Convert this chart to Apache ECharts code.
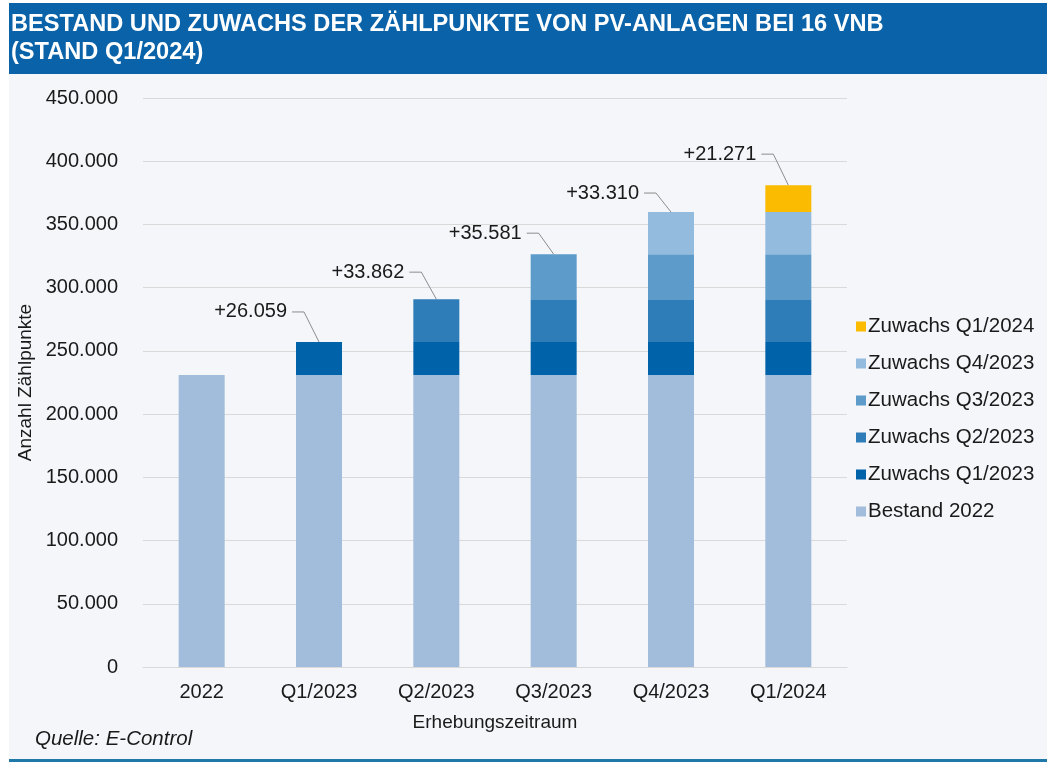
<!DOCTYPE html>
<html>
<head>
<meta charset="utf-8">
<title>Bestand und Zuwachs der Zählpunkte von PV-Anlagen</title>
<script src="https://cdn.jsdelivr.net/npm/echarts@6/dist/echarts.min.js"></script>
<style>
  html, body { margin: 0; padding: 0; background: #fff; }
  #chart { width: 1047px; height: 763px; }
</style>
</head>
<body>
<div id="chart"></div>
<script>
// Erhebungszeiträume
const categories = ['2022', 'Q1/2023', 'Q2/2023', 'Q3/2023', 'Q4/2023', 'Q1/2024']
// Bestand Ende 2022
const bestand2022 = 231000
// Zuwachs je Quartal, gleiche Reihenfolge wie die Stapel
const zuwachsNames = ['Zuwachs Q1/2023', 'Zuwachs Q2/2023', 'Zuwachs Q3/2023', 'Zuwachs Q4/2023', 'Zuwachs Q1/2024']
const zuwachsValues = [26059, 33862, 35581, 33310, 21271]
const yTicks = [0, 50000, 100000, 150000, 200000, 250000, 300000, 350000, 400000, 450000]

// Farben
const colors = ['#a2bcdb', '#0062a9', '#2f7db8', '#5d9bca', '#93bbdd', '#fbbb00']
// Abstand der Beschriftung über dem Balken (px)
const labelRise = [30, 27, 21, 19, 31]

const fontFamily = '"Liberation Sans", Arial, sans-serif'
const fmt = v => Math.round(v).toString().replace(/\B(?=(\d{3})+(?!\d))/g, '.')

// Stapel aufbauen: ein Zuwachs erscheint ab seinem Quartal
const series = [{
  name: 'Bestand 2022',
  type: 'bar',
  stack: 'total',
  barWidth: 46,
  itemStyle: { color: colors[0] },
  data: categories.map(() => bestand2022)
}]
zuwachsNames.forEach((name, i) => {
  series.push({
    name: name,
    type: 'bar',
    stack: 'total',
    barWidth: 46,
    itemStyle: { color: colors[i + 1] },
    data: categories.map((c, k) => (k >= i + 1 ? zuwachsValues[i] : null))
  })
})

// Beschriftungen mit Führungslinie an der Stapelspitze
const annotations = zuwachsValues.map((v, i) => {
  let top = bestand2022
  for (let j = 0; j <= i; j++) top += zuwachsValues[j]
  return [i + 1, top, v, labelRise[i]]
})
series.push({
  type: 'custom',
  silent: true,
  z: 10,
  data: annotations,
  renderItem(params, api) {
    const p = api.coord([api.value(0), api.value(1)])
    const rise = api.value(3)
    const elbowX = p[0] - 15
    const endX = elbowX - 12
    const y = p[1] - rise
    return {
      type: 'group',
      children: [
        {
          type: 'polyline',
          shape: { points: [[p[0], p[1]], [elbowX, y], [endX, y]] },
          style: { stroke: '#8c8c8c', lineWidth: 1, fill: null }
        },
        {
          type: 'text',
          x: endX - 5,
          y: y,
          style: {
            text: '+' + fmt(api.value(2)),
            fontSize: 20,
            fontFamily: fontFamily,
            fill: '#1a1a1a',
            align: 'right',
            verticalAlign: 'middle'
          }
        }
      ]
    }
  }
})

const chart = echarts.init(document.getElementById('chart'))
chart.setOption({
  animation: false,
  textStyle: { fontFamily: fontFamily },
  graphic: [
    { type: 'rect', shape: { x: 9, y: 74, width: 1038, height: 686 }, style: { fill: '#f4f6fa' }, z: -10 },
    { type: 'rect', shape: { x: 9, y: 3, width: 1038, height: 71 }, style: { fill: '#0a62a8' }, z: -5 },
    { type: 'rect', shape: { x: 9, y: 759, width: 1038, height: 3 }, style: { fill: '#1f78a8' }, z: -5 },
    {
      type: 'text', left: 11, top: 12,
      style: { text: 'BESTAND UND ZUWACHS DER ZÄHLPUNKTE VON PV-ANLAGEN BEI 16 VNB', fill: '#fff', fontSize: 23.6, fontWeight: 'bold', fontFamily: fontFamily }
    },
    {
      type: 'text', left: 11, top: 40,
      style: { text: '(STAND Q1/2024)', fill: '#fff', fontSize: 23.6, fontWeight: 'bold', fontFamily: fontFamily }
    },
    {
      type: 'text', left: 35, top: 729,
      style: { text: 'Quelle: E-Control', fill: '#1a1a1a', fontSize: 20.5, fontStyle: 'italic', fontFamily: fontFamily }
    }
  ],
  legend: {
    orient: 'vertical',
    left: 851,
    top: 311,
    itemWidth: 10,
    itemHeight: 10,
    itemGap: 16,
    icon: 'rect',
    data: ['Zuwachs Q1/2024', 'Zuwachs Q4/2023', 'Zuwachs Q3/2023', 'Zuwachs Q2/2023', 'Zuwachs Q1/2023', 'Bestand 2022'],
    textStyle: { fontSize: 20.5, color: '#1a1a1a', fontFamily: fontFamily, padding: [0, 0, 0, -3] }
  },
  grid: { left: 143, right: 200, top: 98, bottom: 96 },
  xAxis: {
    type: 'category',
    data: categories,
    name: 'Erhebungszeitraum',
    nameLocation: 'middle',
    nameGap: 46,
    nameTextStyle: { fontSize: 19, color: '#1a1a1a' },
    axisLine: { lineStyle: { color: '#d9d9d9' } },
    axisTick: { show: false },
    axisLabel: { fontSize: 20, color: '#1a1a1a', margin: 15 }
  },
  yAxis: {
    type: 'value',
    min: yTicks[0],
    max: yTicks[yTicks.length - 1],
    interval: yTicks[1] - yTicks[0],
    name: 'Anzahl Zählpunkte',
    nameLocation: 'middle',
    nameRotate: 90,
    nameGap: 93,
    nameTextStyle: { fontSize: 19, color: '#1a1a1a' },
    axisLine: { show: false },
    axisTick: { show: false },
    splitLine: { lineStyle: { color: '#d9d9d9' } },
    axisLabel: { fontSize: 20, color: '#1a1a1a', margin: 25, formatter: v => fmt(v) }
  },
  series: series
})
</script>
</body>
</html>
